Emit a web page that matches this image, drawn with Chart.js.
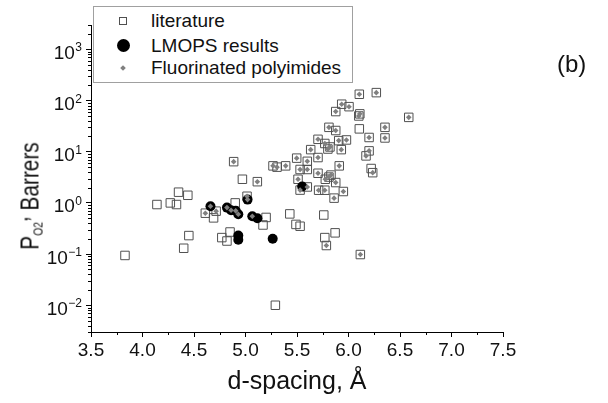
<!DOCTYPE html>
<html>
<head>
<meta charset="utf-8">
<script src="https://cdn.jsdelivr.net/npm/chart.js@4.4.1/dist/chart.umd.min.js"></script>
<style>
  html, body { margin: 0; padding: 0; background: #fff; }
  #wrap { position: relative; width: 608px; height: 403px; font-family: "Liberation Sans", Arial, sans-serif; color: #000; }
  #chart { position: absolute; left: 0; top: 0; }
  #legend { position: absolute; left: 93px; top: 6px; width: 260px; height: 77px; box-sizing: border-box;
            border: 1px solid #a0a0a0; background: #fff; }
  .row { position: absolute; left: 0; height: 22px; line-height: 22px; font-size: 19px; white-space: nowrap; color: #111; }
  .row .t { position: absolute; left: 57px; top: 0; }
  .mk { position: absolute; box-sizing: border-box; }
  .mk.sq { left: 25px; top: 7px; width: 8px; height: 8px; border: 1px solid #505050; }
  .mk.dot { left: 23px; top: 4px; width: 13px; height: 13px; border-radius: 50%; background: #000; }
  .mk.dia { left: 27px; top: 9px; width: 4px; height: 4px; background: #808080; transform: rotate(45deg); }
  #ytitle { position: absolute; left: 25px; top: 196px; font-size: 26px; line-height: 1; white-space: nowrap; color: #111;
            transform: translate(-50%, -50%) rotate(-90deg) scaleX(0.8); }
  #ytitle .sub { font-size: 13px; vertical-align: -4px; }
  #ytitle .cm { vertical-align: 11px; }
  #tag { position: absolute; left: 557px; top: 52px; font-size: 24px; line-height: 24px; color: #111; }
</style>
</head>
<body>
<div id="wrap">
  <canvas id="chart" width="608" height="403"></canvas>
  <div id="legend">
    <div class="row" style="top:3px"><span class="mk sq"></span><span class="t">literature</span></div>
    <div class="row" style="top:28px"><span class="mk dot"></span><span class="t">LMOPS results</span></div>
    <div class="row" style="top:50px"><span class="mk dia"></span><span class="t">Fluorinated polyimides</span></div>
  </div>
  <div id="ytitle">P<span class="sub">O2</span><span class="cm">,</span> Barrers</div>
  <div id="tag">(b)</div>
</div>

<script>
// literature values (open squares only)
const litD = [3.83, 4.14, 4.27, 4.33, 4.35, 4.44, 4.40, 4.45, 4.69, 4.77, 4.82, 4.85, 4.90,
              4.97, 5.17, 5.20, 5.29, 5.43, 5.49, 5.53, 5.76, 5.77, 5.87, 6.105, 6.22]
const litP = [0.094, 0.93, 1.0, 0.93, 1.62, 1.41, 0.13, 0.23, 0.51, 0.21, 0.18, 0.27, 1.0,
              2.9, 0.37, 0.52, 0.010, 0.61, 0.38, 0.35, 0.58, 0.21, 0.26, 28, 4.7]

// fluorinated polyimides from literature (square with grey mark)
const fpiD = [4.61, 4.715, 4.885, 5.015, 5.115, 5.267, 5.306, 5.39, 5.497, 5.51, 5.53, 5.53,
              5.60, 5.60, 5.60, 5.633, 5.704, 5.704, 5.704, 5.71, 5.77, 5.77, 5.775, 5.785,
              5.81, 5.81, 5.80, 5.82, 5.83, 5.86, 5.876, 5.876, 5.876, 5.905, 5.91, 5.93,
              5.934, 5.95, 5.98, 6.005, 6.10, 6.11, 6.105, 6.115, 6.17, 6.20, 6.20, 6.235,
              6.27, 6.354, 6.354, 6.585]
const fpiP = [0.63, 0.69, 6.4, 1.35, 2.6, 5.3, 5.0, 5.3, 7.5, 2.9, 4.5, 1.78,
              4.5, 6.5, 2.05, 11, 17.5, 7.7, 3.8, 1.77, 14.5, 1.77, 2.9, 0.147,
              30, 3.2, 11.3, 12.4, 3.5, 1.24, 61, 26, 2.5, 16.5, 5.3, 11,
              85, 1.67, 17, 76, 50, 55, 133, 0.098, 8.3, 19, 10.4, 3.9,
              143, 30, 18.6, 47]

// LMOPS results
const lmopsD = [4.66, 4.82, 4.86, 4.905, 4.93, 5.02, 5.066, 5.115, 4.93, 4.93, 5.264, 5.55]
const lmopsP = [0.86, 0.81, 0.72, 0.70, 0.60, 1.16, 0.55, 0.50, 0.23, 0.19, 0.20, 2.1]
// LMOPS points that are also fluorinated (grey centre)
const lmopsFluorinated = [0, 1, 2, 3, 4, 5, 6]

const xTicks = [3.5, 4.0, 4.5, 5.0, 5.5, 6.0, 6.5, 7.0, 7.5]
const yTicks = [0.01, 0.1, 1, 10, 100, 1000]
const yTickExp = ['-2', '-1', '0', '1', '2', '3']

const pts = (xs, ys) => xs.map((x, i) => ({ x: x, y: ys[i] }))

const literature = pts(litD.concat(fpiD), litP.concat(fpiP))
const lmops = pts(lmopsD, lmopsP)
const fluorinated = pts(fpiD, fpiP).concat(lmopsFluorinated.map(i => ({ x: lmopsD[i], y: lmopsP[i] })))

// minor ticks + y labels with superscripts
const axisExtras = {
  id: 'axisExtras',
  afterDraw(chart) {
    const { ctx } = chart
    const x = chart.scales.x, y = chart.scales.y
    ctx.save()
    ctx.strokeStyle = '#000'
    ctx.lineWidth = 1
    ctx.beginPath()
    for (let v = 3.75; v < 7.5; v += 0.5) {
      const px = Math.round(x.getPixelForValue(v)) + 0.5
      ctx.moveTo(px, x.top)
      ctx.lineTo(px, x.top + 3)
    }
    for (let e = -3; e <= 3; e++) {
      for (let m = 2; m <= 9; m++) {
        const v = m * Math.pow(10, e)
        if (v < y.min || v > y.max) continue
        const py = Math.round(y.getPixelForValue(v)) + 0.5
        ctx.moveTo(y.right, py)
        ctx.lineTo(y.right - 3, py)
      }
    }
    ctx.stroke()

    ctx.fillStyle = '#111'
    ctx.textBaseline = 'alphabetic'
    ctx.textAlign = 'right'
    yTicks.forEach((v, i) => {
      const py = y.getPixelForValue(v)
      const right = y.right - 9
      ctx.font = '12px "Liberation Sans", Arial, sans-serif'
      const exp = yTickExp[i].replace('-', '\u2212')
      const ew = ctx.measureText(exp).width
      ctx.fillText(exp, right, py + 2)
      ctx.font = '19px "Liberation Sans", Arial, sans-serif'
      ctx.fillText('10', right - ew - 0.5, py + 9.5)
    })
    ctx.restore()
  }
}

new Chart(document.getElementById('chart'), {
  type: 'scatter',
  data: {
    datasets: [
      {
        label: 'Fluorinated polyimides',
        data: fluorinated,
        pointStyle: 'rectRot',
        pointRadius: 2.8,
        pointBorderWidth: 0,
        backgroundColor: '#808080',
        borderColor: '#808080'
      },
      {
        label: 'LMOPS results',
        data: lmops,
        pointStyle: 'circle',
        pointRadius: 5,
        pointBorderWidth: 0,
        backgroundColor: '#000',
        borderColor: '#000'
      },
      {
        label: 'literature',
        data: literature,
        pointStyle: 'rect',
        pointRadius: 6,
        pointBorderWidth: 1,
        backgroundColor: 'rgba(255,255,255,0)',
        borderColor: '#505050'
      }
    ]
  },
  options: {
    responsive: false,
    animation: false,
    devicePixelRatio: 1,
    layout: { padding: { top: 25, right: 105, left: 0, bottom: 0 } },
    plugins: {
      legend: { display: false },
      tooltip: { enabled: false }
    },
    scales: {
      x: {
        type: 'linear',
        min: 3.5,
        max: 7.5,
        afterBuildTicks: scale => { scale.ticks = xTicks.map(v => ({ value: v })) },
        afterFit: scale => { scale.height = 71 },
        border: { display: true, color: '#000', width: 1 },
        grid: { drawOnChartArea: false, drawTicks: true, tickLength: 5, color: '#000' },
        ticks: {
          padding: 2,
          color: '#111',
          font: { family: '"Liberation Sans", Arial, sans-serif', size: 19 },
          callback: v => v.toFixed(1)
        },
        title: {
          display: true,
          text: 'd-spacing, \u00c5',
          color: '#111',
          font: { family: '"Liberation Sans", Arial, sans-serif', size: 25 },
          padding: { top: 0, bottom: 6 }
        }
      },
      y: {
        type: 'logarithmic',
        min: 0.003,
        max: 3000,
        afterBuildTicks: scale => { scale.ticks = yTicks.map(v => ({ value: v })) },
        afterFit: scale => { scale.width = 91 },
        border: { display: true, color: '#000', width: 1 },
        grid: { drawOnChartArea: false, drawTicks: true, tickLength: 5, color: '#000' },
        ticks: { callback: () => '' }
      }
    }
  },
  plugins: [axisExtras]
})
</script>
</body>
</html>
